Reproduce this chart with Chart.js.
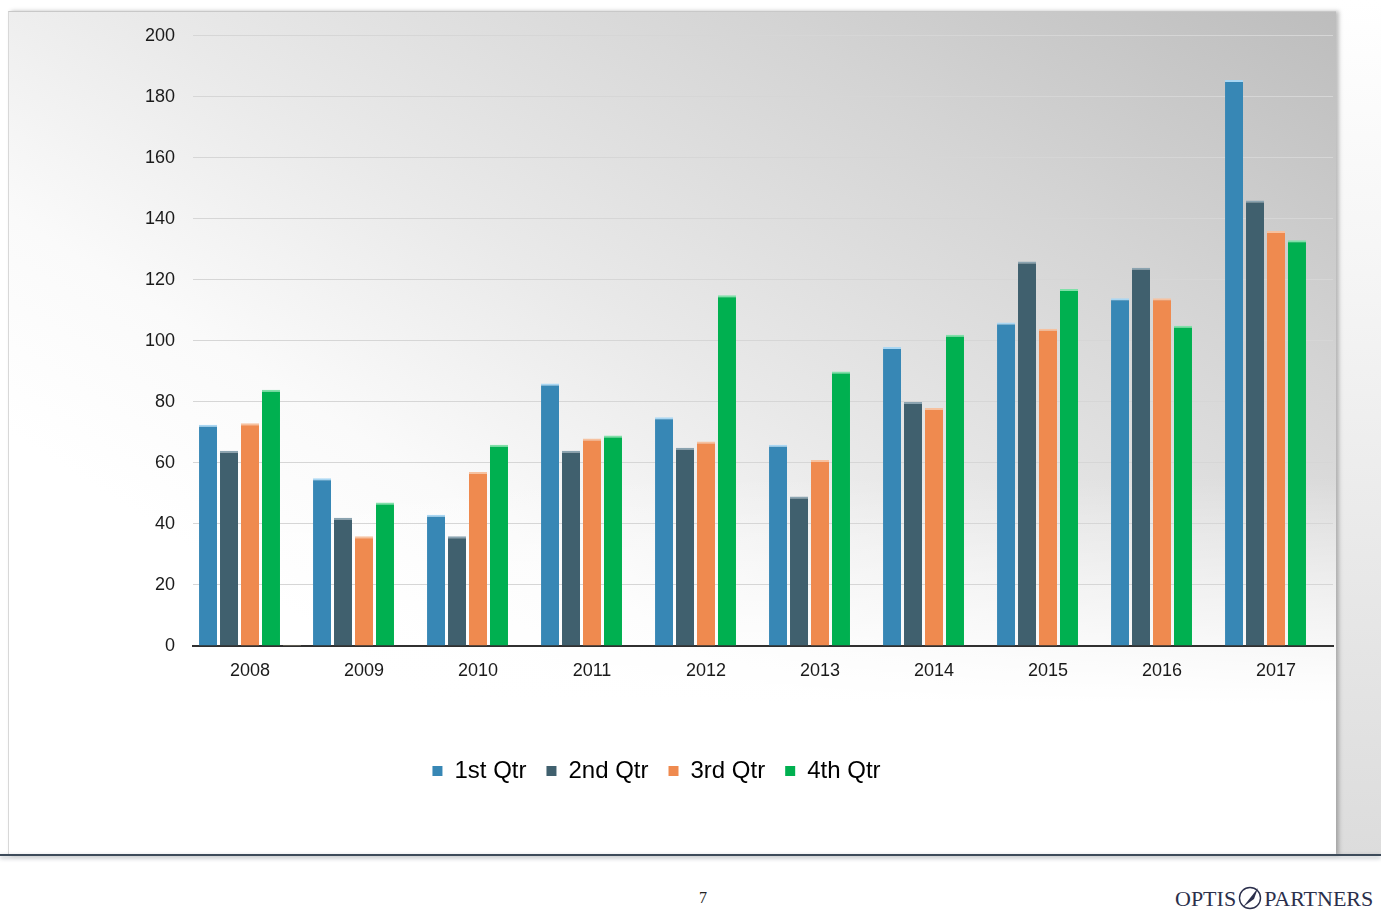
<!DOCTYPE html>
<html>
<head>
<meta charset="utf-8">
<script src="https://cdn.jsdelivr.net/npm/chart.js@4/dist/chart.umd.min.js"></script>
<style>
  html, body { margin:0; padding:0; width:1381px; height:922px; background:#fff; overflow:hidden; font-family:"Liberation Sans", Arial, sans-serif; }
  #strip { position:absolute; left:1336px; top:0; width:45px; height:856px;
    background:linear-gradient(to bottom, #ffffff 0%, #f4f4f4 35%, #dcdcdc 100%); }
  #card { position:absolute; left:8px; top:11px; width:1328px; height:844px;
    border-top:1px solid #c8c8c8; border-left:1px solid #d8d8d8; box-sizing:border-box;
    background:
      linear-gradient(to bottom, rgba(255,255,255,0) 55%, rgba(255,255,255,1) 82%),
      linear-gradient(to bottom left, #bdbdbd 0%, #d4d4d4 22%, #e9e9e9 45%, #fafafa 62%, #ffffff 75%);
    box-shadow: 3px 0 4px rgba(0,0,0,0.25); }
  #baseline { position:absolute; left:0; top:854px; width:1381px; height:2px; background:#3d4b5a;
    box-shadow:0 2px 4px rgba(60,75,90,0.45); }
  #wrap { position:absolute; left:8px; top:7px; width:1328px; height:848px; }
  #page { position:absolute; left:690px; top:889px; width:26px; text-align:center; font-family:"Liberation Serif", serif; font-size:16px; color:#222; }
  #logo { position:absolute; left:1175px; top:885px; font-family:"Liberation Serif", serif; color:#2b2f4c; font-size:22px; letter-spacing:0px; white-space:nowrap; }
  #logo svg { vertical-align:-5px; margin:0 1px; }
</style>
</head>
<body>
<div id="strip"></div>
<div id="card"></div>
<div id="wrap"><canvas id="c" width="1328" height="848"></canvas></div>
<div id="baseline"></div>
<div id="page">7</div>
<div id="logo">OPTIS<svg width="26" height="26" viewBox="0 0 26 26"><circle cx="13" cy="13" r="10.5" fill="none" stroke="#2b2f4c" stroke-width="1.4"/><path d="M6 22 L21 3 L17 14 Z" fill="#2b2f4c"/></svg>PARTNERS</div>
<script>
const categories = ["2008","2009","2010","2011","2012","2013","2014","2015","2016","2017"];
const q1 = [72.5, 55, 43, 86, 75, 66, 98, 106, 114, 185.5];
const q2 = [64, 42, 36, 64, 65, 49, 80, 126, 124, 146];
const q3 = [73, 36, 57, 68, 67, 61, 78, 104, 114, 136];
const q4 = [84, 47, 66, 69, 115, 90, 102, 117, 105, 133];
const extra = [0.4, null, null, null, null, null, null, null, null, null];
const seriesNames = ["1st Qtr", "2nd Qtr", "3rd Qtr", "4th Qtr", ""];
const yTicks = [0, 20, 40, 60, 80, 100, 120, 140, 160, 180, 200];

const colors = ["#3787b5", "#40606e", "#ef8a4f", "#00b050", "#f3efd8"];
const tops = ["#a9d6f2", "#8aa3b0", "#f6c19f", "#7fe0a8", "#e8e0b0"];

function ds(label, data, i) {
  return {
    label, data,
    backgroundColor: colors[i],
    borderColor: tops[i],
    borderWidth: {top: 2, left: 0, right: 0, bottom: 0},
    borderSkipped: 'bottom',
    categoryPercentage: 0.92,
    barPercentage: 0.86
  };
}

const legendShift = {
  id: 'legendShift',
  afterLayout(chart) {
    const lg = chart.legend;
    if (lg) { lg.left -= 14; lg.right -= 14; }
  }
};

new Chart(document.getElementById('c'), {
  type: 'bar',
  data: {
    labels: categories,
    datasets: [ds(seriesNames[0], q1, 0), ds(seriesNames[1], q2, 1), ds(seriesNames[2], q3, 2), ds(seriesNames[3], q4, 3), ds(seriesNames[4], extra, 4)]
  },
  plugins: [legendShift],
  options: {
    responsive: false,
    animation: false,
    layout: { padding: { top: 20, left: 0, right: 3, bottom: 62 } },
    plugins: {
      tooltip: { enabled: false },
      legend: {
        position: 'bottom',
        labels: {
          filter: (item) => item.text !== "",
          boxWidth: 10, boxHeight: 10, padding: 20,
          color: '#1a1a1a',
          font: { family: '"Liberation Sans", Arial, sans-serif', size: 24 },
          generateLabels(chart) {
            return chart.data.datasets.map((d, i) => ({
              text: d.label, fillStyle: colors[i], strokeStyle: colors[i], lineWidth: 0, datasetIndex: i, hidden: false
            }));
          }
        }
      }
    },
    scales: {
      x: {
        grid: { display: false, drawTicks: false },
        border: { display: true, color: '#303030', width: 2 },
        ticks: { color: '#1a1a1a', padding: 14, font: { family: '"Liberation Sans", Arial, sans-serif', size: 18 } },
        afterFit(scale) { scale.height = 93; }
      },
      y: {
        min: 0, max: 200,
        afterBuildTicks(scale) { scale.ticks = yTicks.map(v => ({ value: v })); },
        grid: { color: '#d6d6d6', lineWidth: 1, drawTicks: false },
        border: { display: false },
        ticks: { color: '#1a1a1a', padding: 18, font: { family: '"Liberation Sans", Arial, sans-serif', size: 18 } },
        afterFit(scale) { scale.width = 185; }
      }
    }
  }
});
</script>
</body>
</html>
